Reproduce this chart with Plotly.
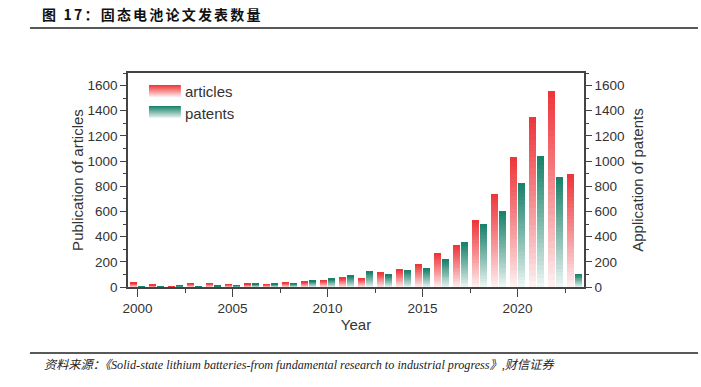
import plotly.graph_objects as go

years = list(range(2000, 2024))
articles = [32, 16, 5, 27, 29, 21, 24, 21, 35, 40, 53, 72, 69, 113, 137, 180, 270, 331, 529, 740, 1032, 1349, 1561, 894]
patents = [5, 5, 10, 5, 8, 12, 24, 24, 27, 48, 64, 88, 120, 96, 132, 145, 217, 357, 502, 603, 828, 1040, 873, 103]

RED = (238, 52, 56)
GREEN = (22, 128, 104)
N = 30


def mix(c, t):
    f = 0.05 + 0.95 * (t ** 0.9)
    return "rgb(%d,%d,%d)" % tuple(round(255 + (ci - 255) * f) for ci in c)


fig = go.Figure()


def add_series(vals, color, offset, yaxis):
    for k in range(N):
        t = (k + 0.5) / N
        fig.add_trace(go.Bar(
            x=years,
            y=[v / N for v in vals],
            base=[v * k / N for v in vals],
            offset=offset, width=0.4,
            marker=dict(color=mix(color, t), line=dict(width=0)),
            yaxis=yaxis, showlegend=False, hoverinfo="skip",
        ))


add_series(articles, RED, -0.41, "y")
add_series(patents, GREEN, 0.01, "y2")

# legend swatches (paper coords)
shapes = []
for (y_top, y_bot, col) in [(0.944, 0.888, RED), (0.846, 0.790, GREEN)]:
    M = 12
    for k in range(M):
        t = 1 - (k + 0.5) / M
        y0 = y_top - (y_top - y_bot) * k / M
        y1 = y_top - (y_top - y_bot) * (k + 1) / M
        shapes.append(dict(type="rect", xref="paper", yref="paper",
                           x0=0.046, x1=0.116, y0=y1, y1=y0,
                           fillcolor=mix(col, t), line=dict(width=0), layer="above"))

shapes.append(dict(type="line", xref="paper", yref="paper", x0=-0.215, x1=1.25,
                   y0=1.2103, y1=1.2103, line=dict(color="#222", width=1.5)))
shapes.append(dict(type="line", xref="paper", yref="paper", x0=-0.215, x1=1.25,
                   y0=-0.3084, y1=-0.3084, line=dict(color="#222", width=1.5)))

axfont = dict(family="Liberation Sans, Arial, sans-serif", size=13.5, color="#333")
ttlfont = dict(family="Liberation Sans, Arial, sans-serif", size=15, color="#333")

annotations = [
    dict(text="articles", xref="paper", yref="paper", x=0.121, y=0.913,
         xanchor="left", yanchor="middle", showarrow=False, font=ttlfont),
    dict(text="patents", xref="paper", yref="paper", x=0.121, y=0.810,
         xanchor="left", yanchor="middle", showarrow=False, font=ttlfont),
    dict(text="<span style='letter-spacing:2.2px'><b>图 17：固态电池论文发表数量</b></span>",
         xref="paper", yref="paper",
         x=-0.193, y=1.2757, xanchor="left", yanchor="middle", showarrow=False,
         font=dict(family="'Noto Sans CJK SC'", size=14, color="#111")),
    dict(text="<i>资料来源：《Solid-state lithium batteries-from fundamental research to industrial progress》,财信证券</i>",
         xref="paper", yref="paper", x=-0.189, y=-0.3645, xanchor="left", yanchor="middle",
         showarrow=False,
         font=dict(family="'Liberation Serif', 'Noto Sans CJK SC', serif", size=12.2, color="#222")),
]

fig.update_layout(
    width=701, height=387,
    margin=dict(l=128, r=117, t=73, b=100),
    paper_bgcolor="white", plot_bgcolor="white",
    barmode="overlay", bargap=0,
    shapes=shapes, annotations=annotations,
    xaxis=dict(range=[1999.5, 2023.5], tick0=2000, dtick=5, ticks="outside", ticklen=8,
               tickwidth=1.2, tickcolor="#444", showline=True, linecolor="#444", linewidth=1.5,
               mirror=True, showgrid=False, zeroline=False, tickfont=axfont,
               minor=dict(tick0=2000, dtick=2.5, ticks="outside", ticklen=4, tickcolor="#444"),
               title=dict(text="Year", font=ttlfont, standoff=0)),
    yaxis=dict(range=[0, 1700], tick0=0, dtick=200, ticks="outside", ticklen=6, tickwidth=1.2,
               tickcolor="#444", showline=True, linecolor="#444", linewidth=1.5,
               showgrid=False, zeroline=False, tickfont=axfont,
               minor=dict(dtick=100, ticks="outside", ticklen=3, tickcolor="#444"),
               title=dict(text="Publication of articles", font=ttlfont, standoff=0)),
    yaxis2=dict(range=[0, 1700], tick0=0, dtick=200, overlaying="y", side="right",
                ticks="outside", ticklen=6, tickwidth=1.2, tickcolor="#444",
                showline=True, linecolor="#444", linewidth=1.5, showgrid=False,
                zeroline=False, tickfont=axfont,
                minor=dict(dtick=100, ticks="outside", ticklen=3, tickcolor="#444"),
                title=dict(text="Application of patents", font=ttlfont, standoff=9)),
)

fig.write_html("out.html", config={"displayModeBar": False},
               post_script="document.body.style.margin='0';document.body.style.padding='0';")
